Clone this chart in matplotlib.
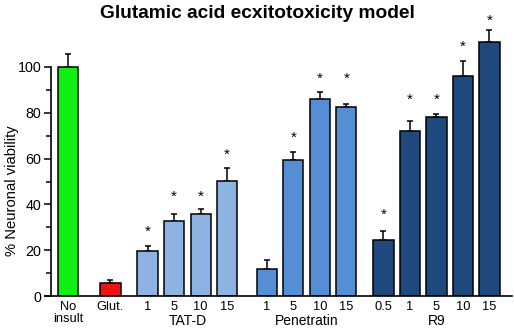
import matplotlib.pyplot as plt
import numpy as np

plt.rcParams['font.family'] = ['Liberation Sans', 'DejaVu Sans']

# bar positions in slot units (groups separated by small gaps)
positions = [0, 1.6, 3.0, 4.0, 5.0, 6.0, 7.5, 8.5, 9.5, 10.5, 11.9, 12.9, 13.9, 14.9, 15.9]
tick_labels = ["No\ninsult", "Glut.", "1", "5", "10", "15", "1", "5", "10", "15",
               "0.5", "1", "5", "10", "15"]
viability = [100, 5.5, 19.8, 32.7, 36, 50.2, 12, 59.4, 86, 82.7, 24.5, 72, 78, 96, 110.8]
errors = [5.5, 1.5, 2.2, 3.1, 2.0, 5.6, 3.7, 3.3, 3.3, 1.0, 4.0, 4.3, 1.3, 6.5, 5.2]
colors = ["#11ee11", "#ee1111"] + ["#8db3e2"] * 4 + ["#558ed5"] * 4 + ["#1f497d"] * 5
star_idx = [2, 3, 4, 5, 7, 8, 9, 10, 11, 12, 13, 14]
star_y = [28.1, 43.2, 43.2, 61.6, 69, 94.8, 94.8, 35.4, 85.6, 85.6, 108.9, 120.2]
groups = ["TAT-D", "Penetratin", "R9"]
group_x = [4.5, 9.0, 13.9]

fig = plt.figure(figsize=(5.14, 3.29), dpi=100)
ax = fig.add_axes([45 / 514, 33 / 329, 467 / 514, 286.25 / 329])

ax.bar(positions, viability, width=0.76, color=colors, edgecolor="black", linewidth=1.1, zorder=2)
ax.errorbar(positions, viability, yerr=[np.zeros(len(errors)), errors], fmt="none",
            ecolor="black", elinewidth=1.1, capsize=2.5, capthick=1.1, zorder=1)

for i, sy in zip(star_idx, star_y):
    ax.text(positions[i], sy, "*", ha="center", va="center", fontsize=11)

ax.set_xlim(-0.87, 16.75)
ax.set_ylim(0, 125)

for s in ["top", "right"]:
    ax.spines[s].set_visible(False)
ax.spines["left"].set_position(("data", -0.64))
ax.spines["left"].set_bounds(0, 100)
ax.spines["left"].set_linewidth(1.2)
ax.spines["bottom"].set_linewidth(1.2)

ax.set_yticks([0, 20, 40, 60, 80, 100])
ax.set_yticks([10, 30, 50, 70, 90], minor=True)
ax.tick_params(axis="y", which="major", length=5, width=1.1, labelsize=10.3, pad=2)
ax.tick_params(axis="y", which="minor", length=3.5, width=1.1)

ax.set_xticks(positions)
ax.set_xticklabels(tick_labels, fontsize=9.3, linespacing=1.05)
ax.tick_params(axis="x", length=0, pad=3.5)

for gx, g in zip(group_x, groups):
    ax.text(gx, -0.088, g, transform=ax.get_xaxis_transform(), ha="center", va="center", fontsize=10)

fig.text(12 / 514, 1 - 191 / 329, "% Neuronal viability", rotation=90, ha="center", va="center",
         fontsize=10.6)
fig.text(0.5, 1 - 13 / 329, "Glutamic acid ecxitotoxicity model", ha="center", va="center",
         fontsize=13.8, fontweight="bold")

fig.savefig("out.png", dpi=100)
